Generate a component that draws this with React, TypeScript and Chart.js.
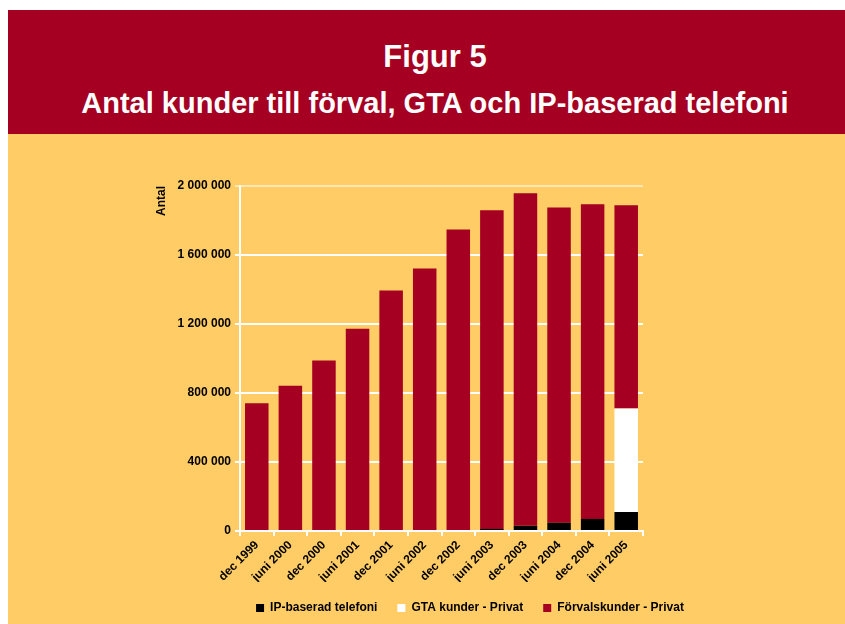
import React, { useEffect, useRef } from "react";
import { Chart, registerables } from "chart.js";

Chart.register(...registerables);

const categories = [
  "dec 1999", "juni 2000", "dec 2000", "juni 2001", "dec 2001", "juni 2002",
  "dec 2002", "juni 2003", "dec 2003", "juni 2004", "dec 2004", "juni 2005",
];
const ipValues = [0, 0, 0, 0, 0, 0, 0, 12000, 30000, 48000, 70000, 110000];
const gtaValues = [0, 0, 0, 0, 0, 0, 0, 0, 0, 0, 0, 600000];
const forvalValues = [
  740000, 842000, 988000, 1173000, 1394000, 1522000,
  1748000, 1847000, 1928000, 1828000, 1824000, 1178000,
];
const seriesNames = ["IP-baserad telefoni", "GTA kunder - Privat", "Förvalskunder - Privat"];
const yMax = 2000000;
const yStep = 400000;

const CRIMSON = "#A50021";
const YELLOW = "#FFCC66";
const FONT = "'Liberation Sans', Arial, sans-serif";

const fmt = (v: number) => String(v).replace(/\B(?=(\d{3})+(?!\d))/g, " ");

export default function App() {
  const ref = useRef<HTMLCanvasElement>(null);
  useEffect(() => {
    if (!ref.current) return;
    const chart = new Chart(ref.current, {
      type: "bar",
      data: {
        labels: categories,
        datasets: [
          { label: seriesNames[0], data: ipValues, backgroundColor: "#000000", borderWidth: 0 },
          { label: seriesNames[1], data: gtaValues, backgroundColor: "#FFFFFF", borderWidth: 0 },
          { label: seriesNames[2], data: forvalValues, backgroundColor: CRIMSON, borderWidth: 0 },
        ],
      },
      options: {
        animation: false,
        responsive: false,
        maintainAspectRatio: false,
        layout: { padding: { left: 140, right: 53, top: 52, bottom: 0 } },
        datasets: { bar: { barPercentage: 1, categoryPercentage: 0.7 } },
        plugins: {
          tooltip: { enabled: false },
          title: { display: false },
          legend: {
            position: "bottom",
            labels: {
              boxWidth: 8,
              boxHeight: 8,
              padding: 20,
              color: "#000",
              font: { family: FONT, size: 12, weight: "bold" },
            },
          },
        },
        scales: {
          x: {
            stacked: true,
            grid: {
              offset: true,
              drawOnChartArea: false,
              drawTicks: true,
              tickLength: 5,
              color: "#FFFFFF",
              lineWidth: 2,
            },
            border: { display: true, color: "#FFFFFF", width: 2 },
            ticks: {
              autoSkip: false,
              minRotation: 45,
              maxRotation: 45,
              padding: 2,
              color: "#000",
              font: { family: FONT, size: 12, weight: "bold" },
            },
            afterFit: (s: any) => { s.height = 51; },
          },
          y: {
            stacked: true,
            min: 0,
            max: yMax,
            ticks: {
              stepSize: yStep,
              padding: 4,
              color: "#000",
              font: { family: FONT, size: 12, weight: "bold" },
              callback: (v: any) => fmt(Number(v)),
            },
            grid: {
              color: (ctx: any) => (ctx.tick && ctx.tick.value === yMax ? "rgba(255,255,255,0.5)" : "#FFFFFF"),
              lineWidth: 2,
              tickLength: 5,
            },
            border: { display: true, color: "#FFFFFF", width: 2 },
            title: {
              display: true,
              text: "Antal",
              align: "end",
              color: "#000",
              padding: { top: 6, bottom: 0 },
              font: { family: FONT, size: 12, weight: "bold" },
            },
            afterFit: (s: any) => { s.width = 92; },
          },
          yRight: {
            type: "linear",
            position: "right",
            display: true,
            grid: { display: false },
            border: { display: false },
            ticks: { display: false },
            afterFit: (s: any) => { s.width = 149; },
          },
        },
      } as any,
    });
    return () => chart.destroy();
  }, []);

  return (
    <div style={{ position: "absolute", left: 0, top: 0, width: 845, height: 624, background: "#fff", overflow: "hidden" }}>
      <div
        style={{
          position: "absolute", left: 8, top: 10, width: 837, height: 124, background: CRIMSON,
          fontFamily: FONT, fontWeight: "bold", color: "#fff",
        }}
      >
        <div style={{ position: "absolute", left: 17, right: 0, top: 31, fontSize: 31, lineHeight: "31px", textAlign: "center", whiteSpace: "nowrap" }}>
          Figur 5
        </div>
        <div style={{ position: "absolute", left: 17, right: 0, top: 79, fontSize: 29, lineHeight: "29px", textAlign: "center", whiteSpace: "nowrap" }}>
          Antal kunder till förval, GTA och IP-baserad telefoni
        </div>
      </div>
      <div style={{ position: "absolute", left: 8, top: 134, width: 837, height: 490, background: YELLOW }}>
        <canvas ref={ref} width={837} height={490} style={{ display: "block", width: 837, height: 490 }} />
      </div>
    </div>
  );
}
